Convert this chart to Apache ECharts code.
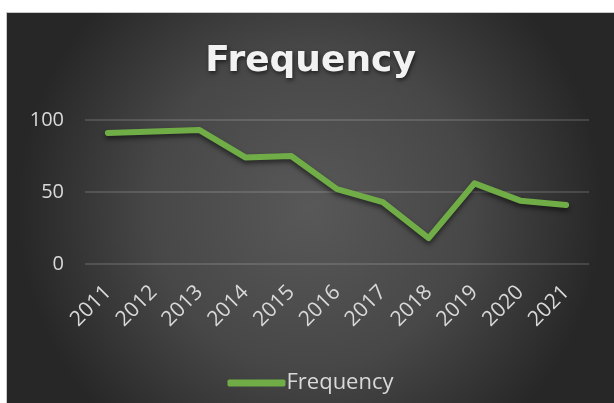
<!DOCTYPE html>
<html>
<head>
<meta charset="utf-8">
<script src="https://cdn.jsdelivr.net/npm/echarts@6/dist/echarts.min.js"></script>
<style>
html,body{margin:0;padding:0;background:#fff;width:614px;height:403px;overflow:hidden;}
#frame{position:absolute;left:6px;top:12px;width:608px;height:391px;border-top:1px solid #c8c8c8;border-left:1px solid #c8c8c8;box-sizing:border-box;}
#chart{position:absolute;left:0;top:0;width:607px;height:390px;}
</style>
</head>
<body>
<div id="frame"><div id="chart"></div></div>
<script>
const categories = ['2011','2012','2013','2014','2015','2016','2017','2018','2019','2020','2021'];
const frequencyValues = [91, 92, 93, 74, 75, 52, 43, 18, 56, 44, 41];
const yTicks = {min: 0, max: 100, interval: 50};

const chart = echarts.init(document.getElementById('chart'));
chart.setOption({
  backgroundColor: new echarts.graphic.RadialGradient(0.5, 0.5, 0.75, [
    {offset: 0, color: '#585858'},
    {offset: 0.55, color: '#474747'},
    {offset: 1, color: '#272727'}
  ]),
  animation: false,
  title: {
    text: 'Frequency',
    left: 'center',
    top: 26,
    textStyle: {
      fontFamily: 'DejaVu Sans',
      fontWeight: 'bold',
      fontSize: 36,
      color: '#f2f2f2',
      textShadowColor: 'rgba(0,0,0,0.6)',
      textShadowBlur: 4,
      textShadowOffsetX: 1,
      textShadowOffsetY: 2
    }
  },
  legend: {
    data: ['Frequency'],
    left: 'center',
    top: 354,
    itemWidth: 58,
    itemHeight: 7,
    itemGap: 10,
    icon: 'roundRect',
    textStyle: {fontFamily: 'Open Sans', fontSize: 22, color: '#d9d9d9', padding: [0,0,0,-4]}
  },
  grid: {left: 78, top: 107, width: 504, height: 144, containLabel: false},
  xAxis: {
    type: 'category',
    data: categories,
    boundaryGap: true,
    axisLine: {show: false},
    axisTick: {show: false},
    axisLabel: {
      rotate: 45,
      margin: 25,
      fontFamily: 'Open Sans',
      fontSize: 21,
      color: '#d9d9d9',
      interval: 0
    }
  },
  yAxis: {
    type: 'value',
    min: yTicks.min,
    max: yTicks.max,
    interval: yTicks.interval,
    axisLine: {show: false},
    axisTick: {show: false},
    axisLabel: {margin: 21, fontFamily: 'Open Sans', fontSize: 20, color: '#d9d9d9'},
    splitLine: {lineStyle: {color: 'rgba(217,217,217,0.22)', width: 1.5}}
  },
  series: [{
    name: 'Frequency',
    type: 'line',
    data: frequencyValues,
    symbol: 'none',
    itemStyle: {color: '#70AD47'},
    lineStyle: {
      color: '#70AD47',
      width: 6,
      cap: 'round',
      join: 'round',
      shadowColor: 'rgba(0,0,0,0.55)',
      shadowBlur: 5,
      shadowOffsetY: 3
    }
  }]
});
</script>
</body>
</html>
